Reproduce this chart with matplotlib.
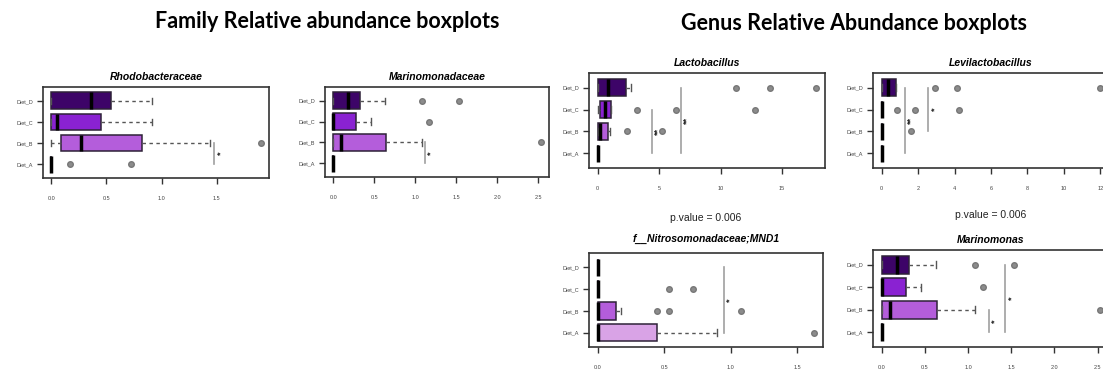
import numpy as np
import matplotlib
matplotlib.use('Agg')
import matplotlib.pyplot as plt

W, H = 1103, 376

diets = ["Diet_A", "Diet_B", "Diet_C", "Diet_D"]
diet_colors = ["#d9a3e6", "#b45ddb", "#8a22d2", "#3d0468"]

# per diet A..D: (whisker low, q1, median, q3, whisker high)
rhodo_stats = [(0, 0, 0, 0, 0), (0, 0.09, 0.27, 0.82, 1.44),
               (0, 0, 0.05, 0.45, 0.91), (0, 0, 0.36, 0.54, 0.91)]
rhodo_out = [[0.17, 0.72], [1.9], [], []]
rhodo_sig = [(1, 0, 1.48, "*")]

marfam_stats = [(0, 0, 0, 0, 0), (0, 0, 0.09, 0.64, 1.08),
                (0, 0, 0, 0.28, 0.46), (0, 0, 0.18, 0.32, 0.63)]
marfam_out = [[], [2.53], [1.17], [1.08, 1.53]]
marfam_sig = [(1, 0, 1.12, "*")]

lacto_stats = [(0, 0, 0, 0, 0), (0, 0, 0.15, 0.8, 1.0),
               (0, 0.17, 0.58, 1.04, 1.1), (0, 0, 0.8, 2.27, 2.7)]
lacto_out = [[], [2.36, 5.2], [3.23, 6.4, 12.8], [11.3, 14.0, 17.8]]
lacto_sig = [(2, 0, 4.4, "**"), (3, 0, 6.75, "**")]

levi_stats = [(0, 0, 0, 0, 0), (0, 0, 0, 0, 0),
              (0, 0, 0, 0, 0), (0, 0, 0.33, 0.8, 0.8)]
levi_out = [[], [1.63], [0.82, 1.82, 4.22], [2.9, 4.13, 12.0]]
levi_sig = [(3, 0, 1.26, "**"), (3, 1, 2.56, "*")]

mnd1_stats = [(0, 0, 0, 0.45, 0.9), (0, 0, 0, 0.135, 0.177),
              (0, 0, 0, 0, 0), (0, 0, 0, 0, 0)]
mnd1_out = [[1.63], [0.45, 0.54, 1.08], [0.54, 0.72], []]
mnd1_sig = [(3, 0, 0.95, "*")]

marino_stats = [(0, 0, 0, 0, 0), (0, 0, 0.09, 0.64, 1.08),
                (0, 0, 0, 0.28, 0.46), (0, 0, 0.18, 0.32, 0.63)]
marino_out = [[], [2.53], [1.17], [1.08, 1.53]]
marino_sig = [(1, 0, 1.24, "*"), (3, 0, 1.43, "*")]


def px_rect(l, t, r, b):
    return [l / W, 1 - b / H, (r - l) / W, (b - t) / H]


panels = [
    dict(title="Rhodobacteraceae", stats=rhodo_stats, out=rhodo_out, sig=rhodo_sig,
         ticks=[0, 0.5, 1.0, 1.5], fmt="{:.1f}", rect=(43, 87, 269, 178), pval=False, tpad=5),
    dict(title="Marinomonadaceae", stats=marfam_stats, out=marfam_out, sig=marfam_sig,
         ticks=[0, 0.5, 1.0, 1.5, 2.0, 2.5], fmt="{:.1f}", rect=(325, 87, 549, 177), pval=False, tpad=5),
    dict(title="Lactobacillus", stats=lacto_stats, out=lacto_out, sig=lacto_sig,
         ticks=[0, 5, 10, 15], fmt="{:.0f}", rect=(589, 73, 825, 168), pval=False, tpad=5),
    dict(title="Levilactobacillus", stats=levi_stats, out=levi_out, sig=levi_sig,
         ticks=[0, 2, 4, 6, 8, 10, 12], fmt="{:.0f}", rect=(873, 73, 1109, 168), pval=False, tpad=5),
    dict(title="f__Nitrosomonadaceae;MND1", stats=mnd1_stats, out=mnd1_out, sig=mnd1_sig,
         ticks=[0, 0.5, 1.0, 1.5], fmt="{:.1f}", rect=(589, 253, 823, 347), pval=True, tpad=8),
    dict(title="Marinomonas", stats=marino_stats, out=marino_out, sig=marino_sig,
         ticks=[0, 0.5, 1.0, 1.5, 2.0, 2.5], fmt="{:.1f}", rect=(873, 250, 1109, 347), pval=True, tpad=5),
]

plt.rcParams['font.family'] = ['Liberation Sans', 'DejaVu Sans']

fig = plt.figure(figsize=(W / 100, H / 100), dpi=100)
fig.text(327 / W, 1 - 21 / H, "Family Relative abundance boxplots", ha='center', va='center',
         fontsize=15.5, fontweight='bold', family=['Lato', 'DejaVu Sans'])
fig.text(854 / W, 1 - 23 / H, "Genus Relative Abundance boxplots", ha='center', va='center',
         fontsize=15.5, fontweight='bold', family=['Lato', 'DejaVu Sans'])

pos = np.arange(1, len(diets) + 1)
for p in panels:
    ax = fig.add_axes(px_rect(*p['rect']))
    bstats = []
    for (lo, q1, med, q3, hi), out in zip(p['stats'], p['out']):
        bstats.append(dict(whislo=lo, q1=q1, med=med, q3=q3, whishi=hi, fliers=np.array(out)))
    bp = ax.bxp(bstats, positions=pos, widths=0.8, orientation='horizontal', patch_artist=True,
                capwidths=0.3,
                boxprops=dict(edgecolor='#2e2238', linewidth=1.1),
                medianprops=dict(color='black', linewidth=2.5, solid_capstyle='butt'),
                whiskerprops=dict(color='#555555', linestyle=(0, (2.5, 2.5)), linewidth=1.0),
                capprops=dict(color='#555555', linewidth=1.0),
                flierprops=dict(marker='o', markerfacecolor='#8c8c8c', markeredgecolor='#777777',
                                markersize=4))
    for patch, c in zip(bp['boxes'], diet_colors):
        patch.set_facecolor(c)

    for i0, i1, x, lab in p['sig']:
        y0, y1 = pos[i0], pos[i1]
        ax.plot([x, x], [y1, y0], color='#a0a0a0', linewidth=1.2, zorder=1)
        ax.annotate(lab, xy=(x, (y0 + y1) / 2), xytext=(4.5, 0), textcoords='offset points',
                    rotation=90, ha='center', va='center', fontsize=6.5, fontweight='bold',
                    color='#222222')

    xmax = max(max(s[4] for s in p['stats']), max((max(o) for o in p['out'] if o), default=0))
    ax.set_xlim(-0.04 * xmax, 1.04 * xmax)
    ax.set_ylim(0.34, 4.66)
    ax.set_xticks(p['ticks'])
    ax.set_xticklabels([p['fmt'].format(t) for t in p['ticks']])
    ax.set_yticks(pos)
    ax.set_yticklabels(diets)
    ax.tick_params(axis='x', length=4, pad=9, labelsize=4, color='#333333', width=1.0,
                   labelcolor='#444444')
    ax.tick_params(axis='y', length=4, pad=3, labelsize=4, color='#333333', width=1.0,
                   labelcolor='#444444')
    for s in ax.spines.values():
        s.set_color('#333333')
        s.set_linewidth(1.2)
    ax.set_title(p['title'], fontsize=7.5, fontweight='bold', fontstyle='italic', pad=p['tpad'])
    if p['pval']:
        ax.annotate("p.value = 0.006", xy=(0.5, 1), xycoords='axes fraction', xytext=(0, 25),
                    textcoords='offset points', ha='center', va='center', fontsize=7.5,
                    color='#222222')

fig.savefig("out.png", dpi=100)
